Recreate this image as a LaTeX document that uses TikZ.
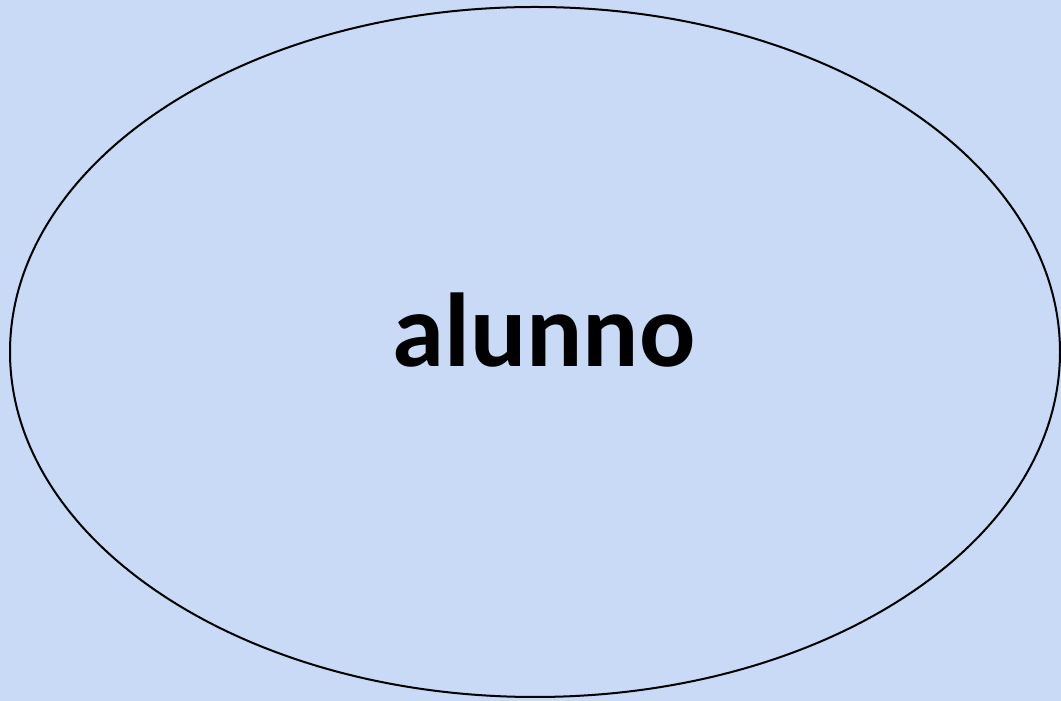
\documentclass[tikz,border=0pt]{standalone}
\usepackage{fontspec}
\setmainfont{Carlito}
\usepackage{tikz}
\usetikzlibrary{positioning,shapes.geometric}
\definecolor{paper}{HTML}{C8DAF5}
\definecolor{ink}{HTML}{000000}
\begin{document}
\begin{tikzpicture}[x=1pt, y=1pt]
\fill[paper] (0,0) rectangle (1061,701);
\useasboundingbox (0,0) rectangle (1061,701);
\draw[ink, line width=2pt] (535,349) ellipse [x radius=525, y radius=345];
\node[anchor=base, font=\fontsize{105}{115}\selectfont\bfseries, text=ink, inner sep=0pt] (alunno) at (544,334) {alunno};
\end{tikzpicture}
\end{document}
